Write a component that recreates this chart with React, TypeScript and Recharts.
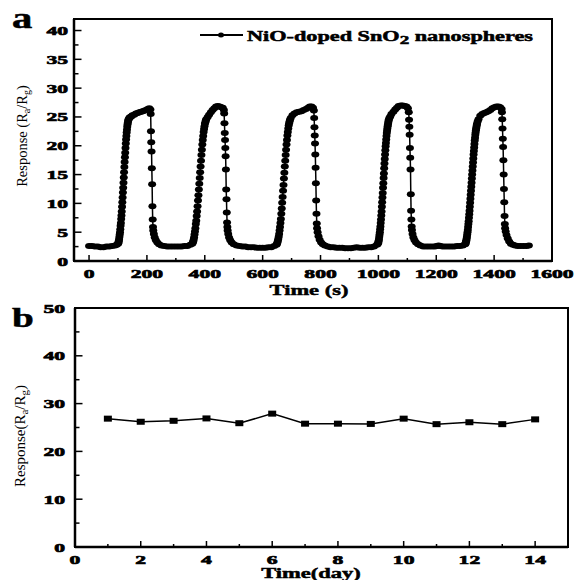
import { LineChart, Line, XAxis, YAxis, ReferenceArea } from 'recharts';

const SERIF = "'Liberation Serif', 'Times New Roman', serif";

// panel a: response vs time (s), one array per on/off cycle, [time, response]
const cycle1: [number, number][] = [
  [0, 2.6], [10, 2.6], [20, 2.5], [30, 2.5], [40, 2.4], [50, 2.4], [60, 2.5], [70, 2.5], [80, 2.6], [90, 2.7],
  [96, 2.8], [100, 3.0], [101, 3.1], [102, 3.3], [103, 3.5], [104, 3.8], [105, 4.2], [106, 4.6], [107, 5.0],
  [108, 5.5], [109, 6.1], [110, 6.6], [111, 7.3], [112, 7.9], [113, 8.6], [114, 9.4], [115, 10.2], [116, 11.0],
  [117, 11.9], [118, 12.7], [119, 13.6], [120, 14.5], [121, 15.4], [122, 16.3], [123, 17.2], [124, 18.0],
  [125, 18.8], [126, 19.6], [127, 20.4], [128, 21.1], [129, 21.7], [130, 22.3], [131, 22.8], [132, 23.3],
  [133, 23.7], [134, 24.0], [135, 24.3], [136, 24.5], [138, 24.7], [140, 24.9],
  [143, 25.0], [146, 25.1], [150, 25.3], [156, 25.4], [162, 25.6], [168, 25.7], [174, 25.8],
  [180, 25.9], [186, 26.0], [192, 26.1], [198, 26.2], [203, 26.4], [208, 26.5], [212, 26.3],
  [213, 25.5], [214, 22.5], [215, 20.6], [216, 19.0], [217, 16.1], [218, 13.3], [219, 9.5], [220, 7.2],
  [221, 5.9], [222, 5.3], [224, 4.7], [227, 4.1], [231, 3.6], [236, 3.2], [242, 2.9], [250, 2.7],
  [260, 2.6], [270, 2.5], [280, 2.5], [290, 2.5], [300, 2.5], [310, 2.5], [320, 2.5], [330, 2.6], [340, 2.6], [350, 2.8],
];
const cycle2: [number, number][] = [
  [357, 3.0], [358.5, 3.2], [360, 3.4], [361.5, 3.7], [363, 4.1], [364.5, 4.6], [366, 5.1], [367.5, 5.7],
  [369, 6.4], [370.5, 7.0], [372, 7.8], [373.5, 8.6], [375, 9.5], [376.5, 10.5], [378, 11.4], [379.5, 12.4],
  [381, 13.4], [382.5, 14.4], [384, 15.4], [385.5, 16.4], [387, 17.4], [388.5, 18.4], [390, 19.3],
  [391.5, 20.2], [393, 21.0], [394.5, 21.7], [396, 22.4], [397.5, 22.9], [399, 23.4], [400.5, 23.8],
  [402, 24.1], [403.5, 24.4], [405, 24.6],
  [410, 25.0], [415, 25.4], [421, 25.8], [427, 26.2], [433, 26.5], [439, 26.8], [445, 26.9], [451, 26.8],
  [457, 26.7], [462, 26.6], [466, 26.2],
  [467, 25.6], [468, 23.9], [469, 22.2], [470, 21.0], [471, 19.6], [472, 18.2], [473, 15.9], [474, 12.4],
  [475, 10.7], [476, 8.4], [477, 6.7], [478, 5.9], [479, 5.3], [481, 4.7], [484, 4.1], [488, 3.6], [493, 3.2],
  [500, 2.9], [510, 2.7], [520, 2.6], [530, 2.5], [540, 2.5], [550, 2.4], [560, 2.4], [570, 2.4], [580, 2.3],
  [590, 2.3], [600, 2.3], [610, 2.3], [620, 2.4], [630, 2.4], [640, 2.6],
];
const cycle3: [number, number][] = [
  [648, 2.8], [649.5, 3.0], [651, 3.2], [652.5, 3.5], [654, 3.8], [655.5, 4.2], [657, 4.7], [658.5, 5.3],
  [660, 5.9], [661.5, 6.6], [663, 7.3], [664.5, 8.2], [666, 9.1], [667.5, 10.1], [669, 11.1], [670.5, 12.2],
  [672, 13.2], [673.5, 14.3], [675, 15.3], [676.5, 16.4], [678, 17.4], [679.5, 18.4], [681, 19.3],
  [682.5, 20.2], [684, 21.0], [685.5, 21.8], [687, 22.4], [688.5, 23.0], [690, 23.5], [691.5, 23.9],
  [693, 24.2], [694.5, 24.5], [697, 24.8],
  [703, 25.3], [710, 25.6], [718, 25.8], [726, 25.9], [734, 26.0], [742, 26.2], [750, 26.4], [757, 26.6],
  [763, 26.8], [769, 26.8], [774, 26.6], [777, 26.1],
  [778, 24.8], [779, 23.2], [780, 21.8], [781, 20.4], [782, 18.5], [783, 16.2], [784, 13.5], [785, 10.5],
  [786, 8.2], [787, 6.5], [788, 5.7], [790, 5.0], [793, 4.3], [797, 3.7], [802, 3.2], [808, 2.9], [815, 2.7],
  [825, 2.5], [835, 2.4], [845, 2.4], [855, 2.3], [865, 2.3], [875, 2.3], [885, 2.2], [895, 2.2], [905, 2.2],
  [915, 2.3], [925, 2.4], [935, 2.3], [945, 2.3], [955, 2.3], [965, 2.4], [975, 2.4], [985, 2.5],
];
const cycle4: [number, number][] = [
  [995, 2.8], [997, 2.9], [999, 3.1], [1000, 3.3], [1001, 3.5], [1002, 3.8], [1003, 4.2], [1004, 4.6],
  [1005, 5.0], [1006, 5.5], [1007, 6.0], [1008, 6.6], [1009, 7.2], [1010, 7.9], [1011, 8.6], [1012, 9.4],
  [1013, 10.2], [1014, 11.0], [1015, 11.8], [1016, 12.7], [1017, 13.5], [1018, 14.4], [1019, 15.2],
  [1020, 16.1], [1021, 16.9], [1022, 17.7], [1023, 18.5], [1024, 19.2], [1025, 19.9], [1026, 20.5],
  [1027, 21.1], [1028, 21.7], [1029, 22.2], [1030, 22.6], [1031, 23.0], [1032, 23.4], [1033, 23.7],
  [1034, 24.0], [1035, 24.3], [1036, 24.5], [1038, 24.8],
  [1041, 25.1], [1045, 25.5], [1052, 25.9], [1058, 26.3], [1064, 26.6], [1070, 26.9], [1077, 27.0], [1084, 27.0],
  [1091, 26.9], [1097, 26.8], [1102, 26.5],
  [1105, 25.8], [1106, 24.5], [1107, 23.3], [1108, 21.9], [1109, 19.6], [1110, 17.9], [1111, 15.9],
  [1112, 11.6], [1113, 8.7], [1114, 7.2], [1115, 6.0], [1116, 5.4], [1118, 4.7], [1121, 4.1], [1125, 3.6],
  [1130, 3.2], [1137, 2.9], [1145, 2.7], [1155, 2.5], [1165, 2.5], [1175, 2.5], [1185, 2.5], [1195, 2.5],
  [1202, 2.6], [1208, 2.7], [1214, 2.6], [1222, 2.5], [1232, 2.5], [1242, 2.5], [1252, 2.5], [1262, 2.5],
  [1272, 2.6], [1282, 2.6], [1292, 2.7],
];
const cycle5: [number, number][] = [
  [1300, 2.9], [1301, 3.0], [1302, 3.2], [1303, 3.4], [1304, 3.6], [1305, 3.9], [1306, 4.2], [1307, 4.6],
  [1308, 5.0], [1309, 5.4], [1310, 5.9], [1311, 6.4], [1312, 6.9], [1313, 7.5], [1314, 8.1], [1315, 8.7],
  [1316, 9.4], [1317, 10.1], [1318, 10.8], [1319, 11.5], [1320, 12.2], [1321, 12.9], [1322, 13.6],
  [1323, 14.3], [1324, 15.0], [1325, 15.7], [1326, 16.4], [1327, 17.1], [1328, 17.8], [1329, 18.5],
  [1330, 19.1], [1331, 19.7], [1332, 20.3], [1333, 20.9], [1334, 21.4], [1335, 21.9], [1336, 22.3],
  [1337, 22.7], [1338, 23.0], [1339, 23.3], [1340, 23.6], [1341, 23.8], [1343, 24.2], [1346, 24.6],
  [1352, 25.2], [1359, 25.5], [1366, 25.7], [1373, 25.8], [1380, 26.0], [1387, 26.2],
  [1394, 26.5], [1401, 26.7], [1408, 26.8], [1415, 26.8], [1421, 26.7], [1426, 26.4],
  [1427, 25.8], [1428, 24.6], [1429, 23.0], [1430, 21.2], [1431, 19.8], [1432, 17.5], [1433, 15.0],
  [1434, 12.5], [1435, 10.2], [1436, 7.8], [1437, 6.4], [1438, 5.7], [1440, 5.1], [1443, 4.5], [1447, 3.9],
  [1452, 3.4], [1458, 3.0], [1465, 2.8], [1473, 2.7], [1482, 2.6], [1492, 2.6], [1502, 2.6], [1512, 2.6],
  [1520, 2.7],
];
const seriesNameA = 'NiO-doped SnO';

// panel b: stability over 14 days
const days = [1, 2, 3, 4, 5, 6, 7, 8, 9, 10, 11, 12, 13, 14];
const responseB = [26.85, 26.2, 26.4, 26.9, 25.9, 27.9, 25.8, 25.8, 25.75, 26.85, 25.7, 26.1, 25.7, 26.7];

// tick labels (major) and minor tick positions
const xMajorA = [0, 200, 400, 600, 800, 1000, 1200, 1400, 1600];
const xMinorA = [100, 300, 500, 700, 900, 1100, 1300, 1500];
const yMajorA = [0, 5, 10, 15, 20, 25, 30, 35, 40];
const yMinorA = [2.5, 7.5, 12.5, 17.5, 22.5, 27.5, 32.5, 37.5];
const xMajorB = [0, 2, 4, 6, 8, 10, 12, 14];
const xMinorB = [1, 3, 5, 7, 9, 11, 13];
const yMajorB = [0, 10, 20, 30, 40, 50];
const yMinorB = [5, 15, 25, 35, 45];

const dataA = [...cycle1, ...cycle2, ...cycle3, ...cycle4, ...cycle5].map(([t, r]) => ({ t, r }));
const dataB = days.map((d, i) => ({ d, r: responseB[i] }));

const sortTicks = (a: number[], b: number[]) => [...a, ...b].sort((p, q) => p - q);

const boldStyle = {
  fontFamily: SERIF,
  fontWeight: 700,
  fill: '#000',
  stroke: '#000',
  strokeWidth: 0.5,
};

// tick label wrapped in its own <g> so position and stretch live outside the text node
function TickLabel({ x, y, anchor, value }: { x: number; y: number; anchor: 'end' | 'middle'; value: number }) {
  return (
    <g transform={`translate(${x},${y}) scale(1.6,1)`}>
      <text
        x={0}
        y={0}
        textAnchor={anchor}
        fontFamily={SERIF}
        fontWeight="bold"
        fontSize={13.5}
        fill="#000"
        stroke="#000"
        strokeWidth={0.7}
      >
        {String(value)}
      </text>
    </g>
  );
}

function makeYTick(majors: number[], gap: number) {
  return (p: any) => {
    const v = p.payload.value;
    const major = majors.includes(v);
    return (
      <g>
        <line x1={p.x} x2={p.x + (major ? 7.5 : 4.5)} y1={p.y} y2={p.y} stroke="#000" strokeWidth={1.5} />
        {major && <TickLabel x={p.x - gap} y={p.y + 4.5} anchor="end" value={v} />}
      </g>
    );
  };
}

function makeXTick(majors: number[]) {
  return (p: any) => {
    const v = p.payload.value;
    const major = majors.includes(v);
    return (
      <g>
        <line x1={p.x} x2={p.x} y1={p.y} y2={p.y - (major ? 6 : 3)} stroke="#000" strokeWidth={1.5} />
        {major && <TickLabel x={p.x} y={p.y + 17} anchor="middle" value={v} />}
      </g>
    );
  };
}

const ellipseDot = (p: any) => (
  <ellipse key={`e-${p.index}`} cx={p.cx} cy={p.cy} rx={4} ry={3} fill="#000" />
);
const squareDot = (p: any) => (
  <rect key={`s-${p.index}`} x={p.cx - 4} y={p.cy - 3} width={8} height={6} fill="#000" />
);

function Overlay() {
  const regular = { fontFamily: SERIF, fill: '#000' };
  return (
    <svg width={574} height={580} style={{ position: 'absolute', left: 0, top: 0, pointerEvents: 'none' }}>
      <text transform="translate(12,28) scale(1.4,1)" style={{ ...boldStyle, fontSize: 29 }}>a</text>
      <text transform="translate(12,327) scale(1.4,1)" style={{ ...boldStyle, fontSize: 28 }}>b</text>

      {/* legend of panel a */}
      <line x1={200} x2={243} y1={35} y2={35} stroke="#000" strokeWidth={2} />
      <ellipse cx={221} cy={35} rx={3} ry={2.5} fill="#000" />
      <text transform="translate(247,40.5) scale(1.59,1)" style={{ ...boldStyle, fontSize: 14 }}>
        {seriesNameA}
        <tspan dy={3} fontSize={12}>2</tspan>
        <tspan dy={-3}> nanospheres</tspan>
      </text>

      <text transform="translate(309,295) scale(1.45,1)" textAnchor="middle" style={{ ...boldStyle, fontSize: 15.5 }}>Time (s)</text>
      <text transform="translate(311,578) scale(1.5,1)" textAnchor="middle" style={{ ...boldStyle, fontSize: 15 }}>Time(day)</text>

      <text transform="translate(26.5,136) rotate(-90)" textAnchor="middle" style={{ ...regular, fontSize: 14.5 }}>
        Response (R<tspan dy={3} fontSize={10}>a</tspan><tspan dy={-3}>/R</tspan><tspan dy={3} fontSize={10}>g</tspan><tspan dy={-3}>)</tspan>
      </text>
      <text transform="translate(24.5,436) rotate(-90)" textAnchor="middle" style={{ ...regular, fontSize: 15 }}>
        Response(R<tspan dy={3} fontSize={11}>a</tspan><tspan dy={-3}>/R</tspan><tspan dy={3} fontSize={11}>g</tspan><tspan dy={-3}>)</tspan>
      </text>
    </svg>
  );
}

export default function App() {
  return (
    <div style={{ position: 'absolute', left: 0, top: 0, width: 574, height: 580, background: '#fff' }}>
      <div style={{ position: 'absolute', left: 0, top: 0 }}>
        <LineChart width={574} height={300} data={dataA} margin={{ top: 19, right: 22, left: 0, bottom: 0 }}>
          <XAxis
            dataKey="t"
            type="number"
            domain={[-52, 1600]}
            ticks={sortTicks(xMajorA, xMinorA)}
            interval={0}
            allowDataOverflow
            height={39}
            tickSize={0}
            tickMargin={0}
            tickLine={false}
            tick={makeXTick(xMajorA)}
            axisLine={{ stroke: '#000', strokeWidth: 2.5 }}
          />
          <YAxis
            type="number"
            domain={[0, 42]}
            ticks={sortTicks(yMajorA, yMinorA)}
            interval={0}
            allowDataOverflow
            width={74}
            tickSize={0}
            tickMargin={0}
            tickLine={false}
            tick={makeYTick(yMajorA, 6)}
            axisLine={{ stroke: '#000', strokeWidth: 2.5 }}
          />
          <ReferenceArea x1={-52} x2={1600} y1={0} y2={42} fill="none" stroke="#000" strokeWidth={2} ifOverflow="visible" />
          <Line
            dataKey="r"
            type="linear"
            stroke="#000"
            strokeWidth={1.5}
            dot={ellipseDot}
            isAnimationActive={false}
          />
        </LineChart>
      </div>
      <div style={{ position: 'absolute', left: 0, top: 300 }}>
        <LineChart width={574} height={280} data={dataB} margin={{ top: 8, right: 6, left: 0, bottom: 0 }}>
          <XAxis
            dataKey="d"
            type="number"
            domain={[0, 15]}
            ticks={sortTicks(xMajorB, xMinorB)}
            interval={0}
            allowDataOverflow
            height={33}
            tickSize={0}
            tickMargin={0}
            tickLine={false}
            tick={makeXTick(xMajorB)}
            axisLine={{ stroke: '#000', strokeWidth: 2.5 }}
          />
          <YAxis
            type="number"
            domain={[0, 50]}
            ticks={sortTicks(yMajorB, yMinorB)}
            interval={0}
            allowDataOverflow
            width={75}
            tickSize={0}
            tickMargin={0}
            tickLine={false}
            tick={makeYTick(yMajorB, 10)}
            axisLine={{ stroke: '#000', strokeWidth: 2.5 }}
          />
          <ReferenceArea x1={0} x2={15} y1={0} y2={50} fill="none" stroke="#000" strokeWidth={2} ifOverflow="visible" />
          <Line
            dataKey="r"
            type="linear"
            stroke="#000"
            strokeWidth={1.5}
            dot={squareDot}
            isAnimationActive={false}
          />
        </LineChart>
      </div>
      <Overlay />
    </div>
  );
}
